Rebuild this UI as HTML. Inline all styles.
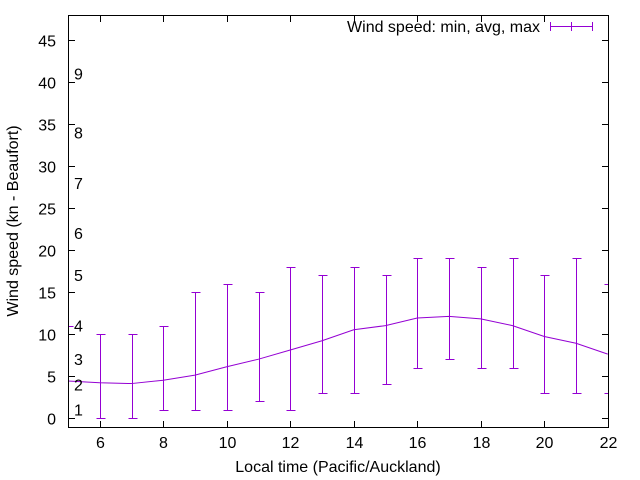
<!DOCTYPE html>
<html><head><meta charset="utf-8"><style>
body{margin:0;background:#fff}
svg{display:block;font-family:"Liberation Sans",sans-serif}
</style></head><body>
<svg id="c" width="640" height="480">
<g id="marks" shape-rendering="crispEdges"></g>
<rect x="68.5" y="15.5" width="540" height="412" fill="none" stroke="#000" stroke-width="1" shape-rendering="crispEdges"/>
<g id="axes" font-size="16" fill="#000" shape-rendering="crispEdges"></g>
<text x="18" y="221" font-size="16" text-anchor="middle" transform="rotate(-90 18 221)">Wind speed (kn - Beaufort)</text>
<text x="338" y="472" font-size="16" text-anchor="middle">Local time (Pacific/Auckland)</text>
<g shape-rendering="crispEdges">
<text x="540" y="32" font-size="16" text-anchor="end">Wind speed: min, avg, max</text>
<line x1="550" y1="26.5" x2="592" y2="26.5" stroke="#9400d3"/>
<line x1="550.5" y1="22" x2="550.5" y2="31" stroke="#9400d3"/>
<line x1="592.5" y1="22" x2="592.5" y2="31" stroke="#9400d3"/>
<line x1="571.5" y1="22" x2="571.5" y2="31" stroke="#9400d3"/>
</g>
</svg>
<script>
const hours=[5,6,7,8,9,10,11,12,13,14,15,16,17,18,19,20,21,22];
const avgSpeed=[4.4,4.2,4.1,4.5,5.1,6.1,7,8.1,9.2,10.5,11,11.9,12.1,11.8,11,9.7,8.9,7.6];
const minSpeed=[0,0,0,1,1,1,2,1,3,3,4,6,7,6,6,3,3,3];
const maxSpeed=[11,10,10,11,15,16,15,18,17,18,17,19,19,18,19,17,19,16];
const xTicks=[6,8,10,12,14,16,18,20,22];
const yTicks=[0,5,10,15,20,25,30,35,40,45];
const beaufortLabels=[1,2,3,4,5,6,7,8,9];
const beaufortKnots=[1,4,7,11,17,22,28,34,41];
const X=v=>68+(v-5)*31.75;
const Y=v=>418-v*8.4;
const P=v=>Math.round(v)+0.5;
const NS='http://www.w3.org/2000/svg';
const marks=document.getElementById('marks'),axes=document.getElementById('axes');
function mk(p,tag,attrs){const e=document.createElementNS(NS,tag);for(const k in attrs)e.setAttribute(k,attrs[k]);p.appendChild(e);return e;}
const C='#9400d3';
for(let i=0;i<hours.length;i++){
 const x=P(X(hours[i]));
 const g=mk(marks,'g',{stroke:C,'stroke-width':1});
 
 
 const y0=P(Y(minSpeed[i])),y1=P(Y(maxSpeed[i]));
 mk(g,'line',{x1:x,x2:x,y1:y0,y2:y1});
 mk(g,'line',{x1:x-4,x2:x+5,y1:y0,y2:y0});
 mk(g,'line',{x1:x-4,x2:x+5,y1:y1,y2:y1});
}
const pl=mk(marks,'polyline',{points:hours.map((h,i)=>X(h)+','+Y(avgSpeed[i])).join(' '),fill:'none',stroke:C,'stroke-width':1,'shape-rendering':'auto'});


const cp=mk(document.getElementById('c'),'clipPath',{id:'cp'});mk(cp,'rect',{x:68,y:15,width:541,height:413});
marks.setAttribute('clip-path','url(#cp)');
xTicks.forEach(t=>{const x=P(X(t));
 mk(axes,'line',{x1:x,x2:x,y1:427,y2:421,stroke:'#000'});
 mk(axes,'line',{x1:x,x2:x,y1:16,y2:22,stroke:'#000'});
 const tx=mk(axes,'text',{x:x,y:448,'text-anchor':'middle'});tx.textContent=t;
 
 
});
yTicks.forEach(t=>{const y=P(Y(t));
 mk(axes,'line',{x1:68,x2:75,y1:y,y2:y,stroke:'#000'});
 mk(axes,'line',{x1:608,x2:602,y1:y,y2:y,stroke:'#000'});
 const tx=mk(axes,'text',{x:56,y:y+6,'text-anchor':'end'});tx.textContent=t;
 
 
});
beaufortLabels.forEach((b,i)=>{const y=Y(beaufortKnots[i]);
 const tx=mk(axes,'text',{x:74,y:y+6});tx.textContent=b;
 
 
});
</script>
</body></html>
